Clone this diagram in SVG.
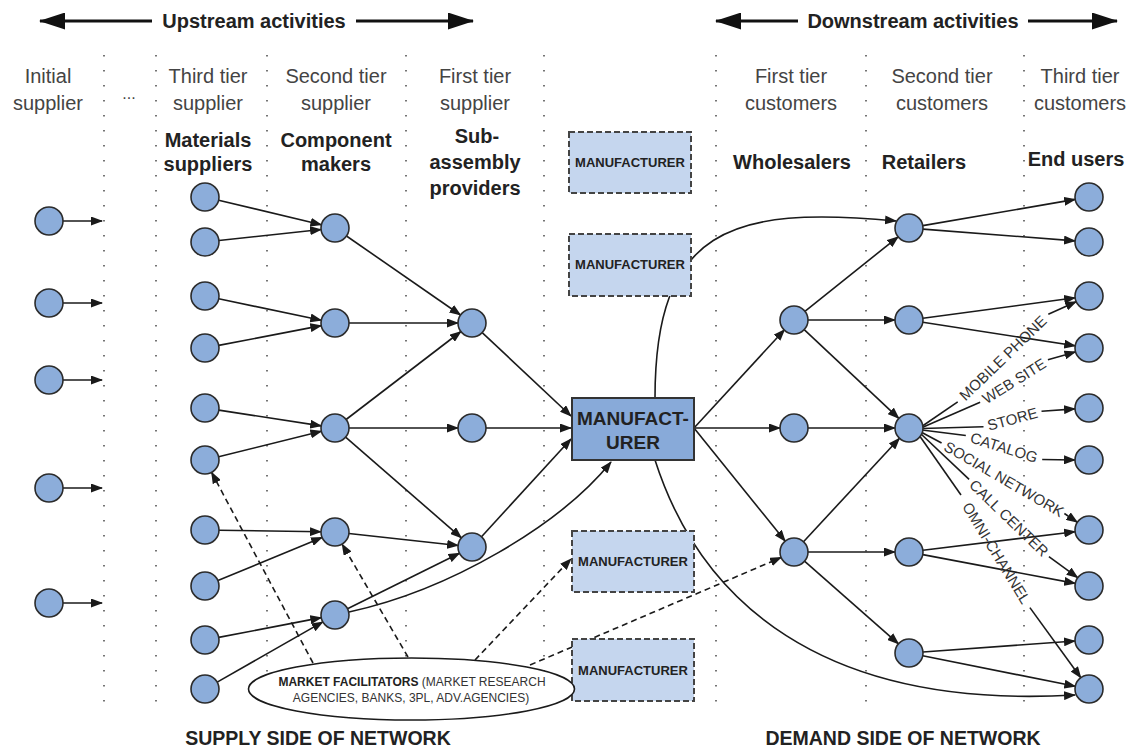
<svg xmlns="http://www.w3.org/2000/svg" width="1137" height="748" viewBox="0 0 1137 748">
<style>
.n{fill:#8cadda;stroke:#2b2b2b;stroke-width:1.6}
.e{stroke:#1a1a1a;stroke-width:1.6;fill:none;marker-end:url(#ah)}
.l{stroke:#1a1a1a;stroke-width:1.6;fill:none}
.d{stroke:#1a1a1a;stroke-width:1.6;fill:none;stroke-dasharray:6 4;marker-end:url(#ah)}
.dot{stroke:#666;stroke-width:1.8;stroke-dasharray:1.5 13.5}
.big{stroke:#111;stroke-width:3;marker-start:url(#bh);marker-end:url(#bh)}
.t{font-family:"Liberation Sans",Arial,sans-serif}
.h{font-size:20px;fill:#444;text-anchor:middle}
.b{font-size:20px;font-weight:bold;fill:#222;text-anchor:middle}
.ch{font-size:15px;fill:#333;text-anchor:middle}
.mf{font-size:13px;font-weight:bold;fill:#222;text-anchor:middle}
.box{fill:#c5d6ee;stroke:#444;stroke-width:2;stroke-dasharray:6 3}
</style>
<defs>
<marker id="ah" markerUnits="userSpaceOnUse" viewBox="0 0 12 9" markerWidth="12" markerHeight="9" refX="11" refY="4.5" orient="auto"><path d="M0,0 L12,4.5 L0,9 z" fill="#1a1a1a"/></marker>
<marker id="bh" markerUnits="userSpaceOnUse" viewBox="0 0 26 17" markerWidth="26" markerHeight="17" refX="25" refY="8.5" orient="auto-start-reverse"><path d="M0,0 L26,8.5 L0,17 z" fill="#111"/></marker>
</defs>

<g id="grid">
<line class="dot" x1="104" y1="55" x2="104" y2="702"/>
<line class="dot" x1="156" y1="55" x2="156" y2="702"/>
<line class="dot" x1="267" y1="55" x2="267" y2="702"/>
<line class="dot" x1="406" y1="55" x2="406" y2="702"/>
<line class="dot" x1="544" y1="55" x2="544" y2="702"/>
<line class="dot" x1="716" y1="55" x2="716" y2="702"/>
<line class="dot" x1="866" y1="55" x2="866" y2="702"/>
<line class="dot" x1="1024" y1="55" x2="1024" y2="702"/>
</g>

<g id="headings" class="t">
<line class="big" x1="40" y1="21" x2="152" y2="21" style="marker-end:none"/>
<line class="big" x1="356" y1="21" x2="473" y2="21" style="marker-start:none"/>
<text class="b" x="254" y="28">Upstream activities</text>
<line class="big" x1="716" y1="21" x2="798" y2="21" style="marker-end:none"/>
<line class="big" x1="1028" y1="21" x2="1117" y2="21" style="marker-start:none"/>
<text class="b" x="913" y="28">Downstream activities</text>

<text class="h" x="48" y="83">Initial</text><text class="h" x="48" y="110">supplier</text>
<text class="h" x="129" y="99" style="font-size:16px">...</text>
<text class="h" x="208" y="83">Third tier</text><text class="h" x="208" y="110">supplier</text>
<text class="h" x="336" y="83">Second tier</text><text class="h" x="336" y="110">supplier</text>
<text class="h" x="475" y="83">First tier</text><text class="h" x="475" y="110">supplier</text>
<text class="h" x="791" y="83">First tier</text><text class="h" x="791" y="110">customers</text>
<text class="h" x="942" y="83">Second tier</text><text class="h" x="942" y="110">customers</text>
<text class="h" x="1080" y="83">Third tier</text><text class="h" x="1080" y="110">customers</text>

<text class="b" x="208" y="147">Materials</text><text class="b" x="208" y="171">suppliers</text>
<text class="b" x="336" y="147">Component</text><text class="b" x="336" y="171">makers</text>
<text class="b" x="477" y="143">Sub-</text><text class="b" x="475" y="169">assembly</text><text class="b" x="475" y="195">providers</text>
<text class="b" x="792" y="169">Wholesalers</text>
<text class="b" x="924" y="169">Retailers</text>
<text class="b" x="1076" y="166">End users</text>

<text class="b" x="318" y="745" style="font-size:19.5px">SUPPLY SIDE OF NETWORK</text>
<text class="b" x="903" y="745" style="font-size:19.5px">DEMAND SIDE OF NETWORK</text>
</g>

<g id="connectors">
<line class="e" x1="63" y1="221" x2="102" y2="221"/>
<line class="e" x1="63" y1="303" x2="102" y2="303"/>
<line class="e" x1="63" y1="380" x2="102" y2="380"/>
<line class="e" x1="63" y1="488" x2="102" y2="488"/>
<line class="e" x1="63" y1="603" x2="102" y2="603"/>
<line class="e" x1="218.6" y1="200.2" x2="321.4" y2="224.8"/>
<line class="e" x1="218.9" y1="240.5" x2="321.1" y2="229.5"/>
<line class="e" x1="218.7" y1="298.8" x2="321.3" y2="320.2"/>
<line class="e" x1="218.7" y1="345.4" x2="321.3" y2="325.6"/>
<line class="e" x1="218.8" y1="410.1" x2="321.2" y2="425.9"/>
<line class="e" x1="218.6" y1="456.7" x2="321.4" y2="431.3"/>
<line class="e" x1="219" y1="530.2" x2="321" y2="531.8"/>
<line class="e" x1="217.9" y1="580.6" x2="322.1" y2="537.4"/>
<line class="e" x1="218.7" y1="637.4" x2="321.3" y2="617.6"/>
<line class="e" x1="217.2" y1="682.1" x2="322.8" y2="621.9"/>
<line class="e" x1="346.5" y1="236" x2="460.5" y2="315"/>
<line class="e" x1="349" y1="323" x2="458" y2="323"/>
<line class="e" x1="346.1" y1="419.5" x2="460.9" y2="331.5"/>
<line class="e" x1="349" y1="428" x2="458" y2="428"/>
<line class="e" x1="345.6" y1="437.2" x2="461.4" y2="537.8"/>
<line class="e" x1="348.9" y1="533.5" x2="458.1" y2="545.5"/>
<line class="e" x1="347.5" y1="608.8" x2="459.5" y2="553.2"/>
<path class="e" d="M349,612 C450,590 560,525 611,462"/>
<line class="e" x1="482.2" y1="332.6" x2="571" y2="416"/>
<line class="e" x1="486" y1="428" x2="571" y2="428"/>
<line class="e" x1="481.5" y1="536.7" x2="571" y2="439"/>
<line class="e" x1="694" y1="428" x2="784.5" y2="329.7"/>
<line class="e" x1="694" y1="428" x2="780" y2="428"/>
<line class="e" x1="694" y1="428" x2="785.2" y2="541.1"/>
<path class="e" d="M655,398 C655,230 730,205 896,221"/>
<path class="e" d="M655,460 C700,600 820,710 1075,695"/>
<line class="e" x1="804.9" y1="311.3" x2="898.1" y2="236.8"/>
<line class="e" x1="808" y1="320" x2="895" y2="320"/>
<line class="e" x1="804.2" y1="329.6" x2="898.8" y2="418.4"/>
<line class="e" x1="808" y1="428" x2="895" y2="428"/>
<line class="e" x1="803.5" y1="541.7" x2="899.5" y2="438.3"/>
<line class="e" x1="808" y1="552" x2="895" y2="552"/>
<line class="e" x1="804.5" y1="561.2" x2="898.5" y2="643.8"/>
<line class="e" x1="922.8" y1="225.6" x2="1075.2" y2="199.4"/>
<line class="e" x1="923" y1="229.1" x2="1075" y2="240.9"/>
<line class="e" x1="922.9" y1="318.2" x2="1075.1" y2="297.8"/>
<line class="e" x1="922.8" y1="322.2" x2="1075.2" y2="345.8"/>
<line class="e" x1="922.9" y1="550.3" x2="1075.1" y2="531.7"/>
<line class="e" x1="922.8" y1="554.6" x2="1075.2" y2="583.4"/>
<line class="e" x1="923" y1="652" x2="1075" y2="641"/>
<line class="e" x1="922.7" y1="655.7" x2="1075.3" y2="686.3"/>
<line class="l" x1="921" y1="427" x2="957.7" y2="401.8"/>
<line class="e" x1="1048.3" y1="314.2" x2="1076.2" y2="301.7"/>
<line class="l" x1="921" y1="428" x2="980.1" y2="402.2"/>
<line class="e" x1="1047.9" y1="359.8" x2="1075.5" y2="351.9"/>
<line class="l" x1="922" y1="428.5" x2="983.5" y2="426.8"/>
<line class="e" x1="1041.5" y1="411.2" x2="1075" y2="408.9"/>
<line class="l" x1="922" y1="430" x2="965.8" y2="435.5"/>
<line class="e" x1="1042.2" y1="459.5" x2="1075" y2="460"/>
<line class="l" x1="921" y1="432" x2="941.6" y2="443"/>
<line class="e" x1="1064.4" y1="513.5" x2="1077.3" y2="522.3"/>
<line class="l" x1="920" y1="433" x2="969.1" y2="479.4"/>
<line class="e" x1="1048.9" y1="556.6" x2="1077.7" y2="577.7"/>
<line class="l" x1="919" y1="435" x2="961" y2="495"/>
<line class="e" x1="1029.9" y1="607.6" x2="1080.8" y2="677.7"/>
<line class="d" x1="313" y1="663" x2="211.6" y2="472.4"/>
<line class="d" x1="408" y1="657" x2="342.1" y2="544.1"/>
<line class="d" x1="475" y1="660" x2="571" y2="559"/>
<line class="d" x1="530" y1="665" x2="781.1" y2="557.5"/>
</g>

<g id="channel-labels" class="t">
<text class="ch" transform="translate(1003,358) rotate(-44)" y="5.3">MOBILE PHONE</text>
<text class="ch" transform="translate(1014,381) rotate(-32)" y="5.3">WEB SITE</text>
<text class="ch" transform="translate(1012.5,419) rotate(-15)" y="5.3">STORE</text>
<text class="ch" transform="translate(1004,447.5) rotate(17.5)" y="5.3">CATALOG</text>
<text class="ch" transform="translate(1004,479) rotate(30)" y="5.3">SOCIAL NETWORK</text>
<text class="ch" transform="translate(1009,518) rotate(44)" y="5.3">CALL CENTER</text>
<text class="ch" transform="translate(996.5,553) rotate(58.5)" y="5.3">OMNI-CHANNEL</text>
</g>

<g id="initial-suppliers">
<circle class="n" cx="49" cy="221" r="14"/><circle class="n" cx="49" cy="303" r="14"/><circle class="n" cx="49" cy="380" r="14"/><circle class="n" cx="49" cy="488" r="14"/><circle class="n" cx="49" cy="603" r="14"/>
</g>
<g id="materials-suppliers">
<circle class="n" cx="205" cy="197" r="14"/><circle class="n" cx="205" cy="242" r="14"/><circle class="n" cx="205" cy="296" r="14"/><circle class="n" cx="205" cy="348" r="14"/><circle class="n" cx="205" cy="408" r="14"/><circle class="n" cx="205" cy="460" r="14"/><circle class="n" cx="205" cy="530" r="14"/><circle class="n" cx="205" cy="586" r="14"/><circle class="n" cx="205" cy="640" r="14"/><circle class="n" cx="205" cy="689" r="14"/>
</g>
<g id="component-makers">
<circle class="n" cx="335" cy="228" r="14"/><circle class="n" cx="335" cy="323" r="14"/><circle class="n" cx="335" cy="428" r="14"/><circle class="n" cx="335" cy="532" r="14"/><circle class="n" cx="335" cy="615" r="14"/>
</g>
<g id="sub-assembly-providers">
<circle class="n" cx="472" cy="323" r="14"/><circle class="n" cx="472" cy="428" r="14"/><circle class="n" cx="472" cy="547" r="14"/>
</g>
<g id="manufacturer" class="t">
<rect x="572" y="398" width="122" height="62" fill="#88aad9" stroke="#333" stroke-width="2"/>
<text class="b" x="633" y="425" style="font-size:19px">MANUFACT-</text>
<text class="b" x="633" y="449" style="font-size:19px">URER</text>
</g>
<g id="manufacturer-1" class="t"><rect class="box" x="569" y="132" width="122" height="61"/><text class="mf" x="630" y="167">MANUFACTURER</text></g>
<g id="manufacturer-2" class="t"><rect class="box" x="569" y="234" width="122" height="62"/><text class="mf" x="630" y="269">MANUFACTURER</text></g>
<g id="manufacturer-3" class="t"><rect class="box" x="572" y="531" width="122" height="61"/><text class="mf" x="633" y="566">MANUFACTURER</text></g>
<g id="manufacturer-4" class="t"><rect class="box" x="572" y="639" width="122" height="62"/><text class="mf" x="633" y="675">MANUFACTURER</text></g>
<g id="wholesalers">
<circle class="n" cx="794" cy="320" r="14"/><circle class="n" cx="794" cy="428" r="14"/><circle class="n" cx="794" cy="552" r="14"/>
</g>
<g id="retailers">
<circle class="n" cx="909" cy="228" r="14"/><circle class="n" cx="909" cy="320" r="14"/><circle class="n" cx="909" cy="428" r="14"/><circle class="n" cx="909" cy="552" r="14"/><circle class="n" cx="909" cy="653" r="14"/>
</g>
<g id="end-users">
<circle class="n" cx="1089" cy="197" r="14"/><circle class="n" cx="1089" cy="242" r="14"/><circle class="n" cx="1089" cy="296" r="14"/><circle class="n" cx="1089" cy="348" r="14"/><circle class="n" cx="1089" cy="408" r="14"/><circle class="n" cx="1089" cy="460" r="14"/><circle class="n" cx="1089" cy="530" r="14"/><circle class="n" cx="1089" cy="586" r="14"/><circle class="n" cx="1089" cy="640" r="14"/><circle class="n" cx="1089" cy="689" r="14"/>
</g>
<g id="market-facilitators" class="t">
<ellipse cx="411.5" cy="689" rx="163" ry="31" fill="#fff" stroke="#1a1a1a" stroke-width="1.6"/>
<text x="412" y="686" style="font-size:12px;fill:#333;text-anchor:middle"><tspan style="font-weight:bold;fill:#222">MARKET FACILITATORS</tspan>  (MARKET RESEARCH</text>
<text x="411" y="702" style="font-size:12px;fill:#333;text-anchor:middle">AGENCIES, BANKS, 3PL, ADV.AGENCIES)</text>
</g>
</svg>
